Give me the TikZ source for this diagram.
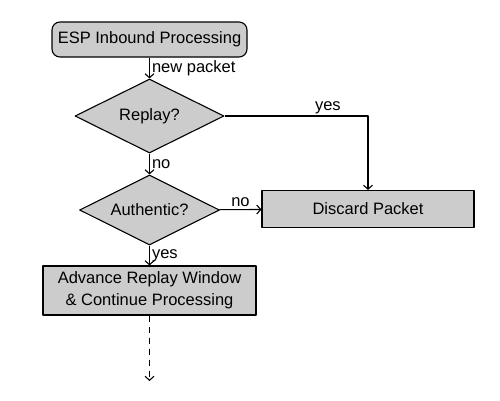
\documentclass[tikz,border=0pt]{standalone}
\usepackage{fontspec}
\setmainfont{Liberation Sans}
\usetikzlibrary{shapes.geometric,arrows.meta}
\begin{document}
\begin{tikzpicture}[x=1pt,y=-1pt,line join=round,line width=1.1pt,font=\fontsize{16.5}{22}\selectfont,>={Straight Barb[length=4pt,width=9pt]},
	box/.style={draw,fill=gray!40,inner sep=0pt,align=center},
	decide/.style={draw,fill=gray!40,diamond,aspect=2,inner sep=0pt},
	lbl/.style={inner sep=2pt,font=\fontsize{16.5}{19}\selectfont}]
		\useasboundingbox (0,0) rectangle (500,400);
		\node[box,rounded corners=8pt,minimum width=195pt,minimum height=35pt] (start) at (149.5,39.5) {ESP Inbound Processing};
		\node[decide,minimum width=149pt,minimum height=74pt] (replay) at (149.5,116) {Replay?};
		\node[decide,minimum width=140pt,minimum height=70pt] (auth) at (149.5,210) {Authentic?};
		\node[box,minimum width=212pt,minimum height=37pt] (discard) at (368,209) {Discard Packet};
		\node[box,minimum width=213pt,minimum height=49pt] (advance) at (149.5,290.5) {Advance Replay Window\\\& Continue Processing};
		\coordinate (next) at (149.5,381);
		\draw[->](start)--node[lbl,right]{new packet}(replay);
		\draw[->](replay)--node[lbl,right]{no}(auth);
		\draw[->](replay.east)-|node[lbl,above,pos=0.36]{yes}(discard);
		\draw[->](auth)--node[lbl,above]{no}(discard);
		\draw[->](auth)--node[lbl,right]{yes}(advance);
		\draw[->,dash pattern=on 6pt off 5pt](advance)--(next);
\end{tikzpicture}
\end{document}
